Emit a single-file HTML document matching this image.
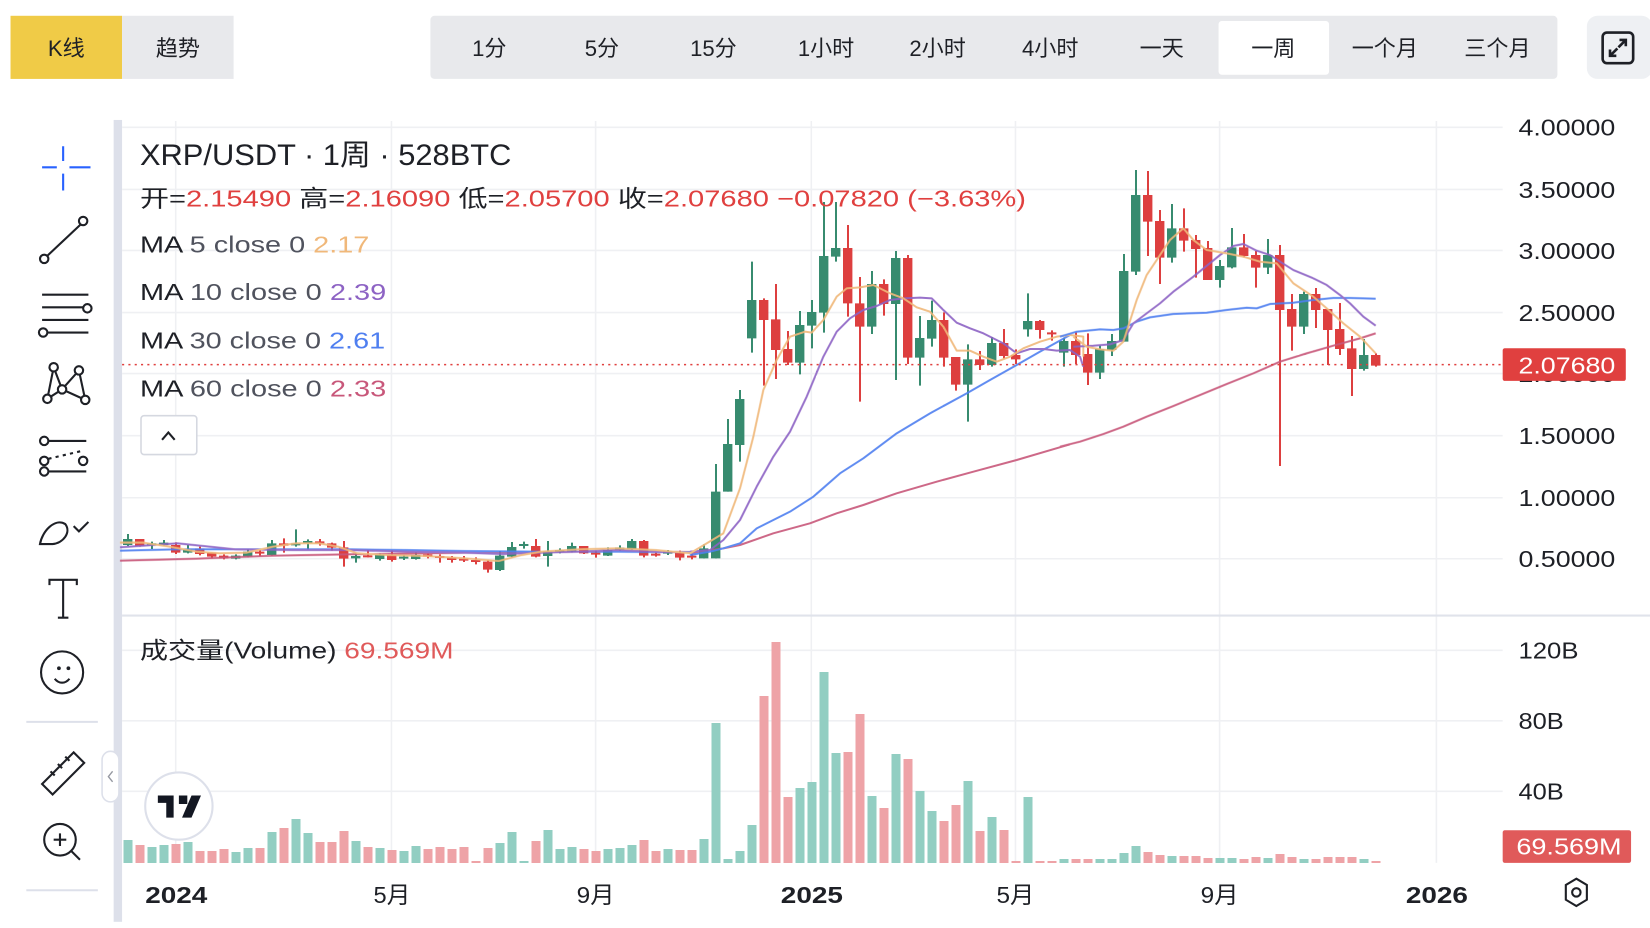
<!DOCTYPE html>
<html><head><meta charset="utf-8">
<style>
html,body{margin:0;padding:0;background:#fff;}
svg{display:block;}
text{font-family:"Liberation Sans","Noto Sans CJK SC",sans-serif;}
</style></head>
<body>
<svg width="1650" height="928" viewBox="0 0 1650 928" xmlns="http://www.w3.org/2000/svg">
<rect width="1650" height="928" fill="#fff"/>
<g transform="scale(1.05230)">
  <rect x="10" y="15" width="106" height="60" fill="#f0cb47"/>
  <rect x="116" y="15" width="106" height="60" fill="#e8e9ec"/>
  <text x="63" y="53" font-size="21" text-anchor="middle" fill="#1e2026">K线</text>
  <text x="169" y="53" font-size="21" text-anchor="middle" fill="#1e2026">趋势</text>
  <rect x="409" y="15" width="1071" height="60" rx="4" fill="#e8e9ec"/>
  <rect x="1158" y="20" width="105" height="51" rx="3" fill="#fff"/>
  <g font-size="21" text-anchor="middle" fill="#1e2026">
    <text x="465" y="53">1分</text><text x="572" y="53">5分</text><text x="678" y="53">15分</text>
    <text x="785" y="53">1小时</text><text x="891" y="53">2小时</text><text x="998" y="53">4小时</text>
    <text x="1104" y="53">一天</text><text x="1210" y="53">一周</text><text x="1316" y="53">一个月</text><text x="1423" y="53">三个月</text>
  </g>
  <rect x="1508" y="15" width="62" height="60" rx="10" fill="#eef0f3"/>
  <rect x="1523" y="31" width="29" height="29" rx="4" fill="none" stroke="#1e2026" stroke-width="2.5"/>
  <path d="M1530 53 L1537 46 M1530 47 V53 H1536 M1545 38 L1538 45 M1539 38 H1545 V44" stroke="#1e2026" stroke-width="2.5" fill="none"/>

  <rect x="108" y="114" width="8" height="762" fill="#dde0ea"/>

  <g stroke="#eff0f3" stroke-width="1.5">
    <line x1="116" y1="121" x2="1428" y2="121"/><line x1="116" y1="180" x2="1428" y2="180"/>
    <line x1="116" y1="238" x2="1428" y2="238"/><line x1="116" y1="297" x2="1428" y2="297"/>
    <line x1="116" y1="355" x2="1428" y2="355"/><line x1="116" y1="414" x2="1428" y2="414"/>
    <line x1="116" y1="473" x2="1428" y2="473"/><line x1="116" y1="531" x2="1428" y2="531"/>
    <line x1="116" y1="618" x2="1428" y2="618"/><line x1="116" y1="685" x2="1428" y2="685"/>
    <line x1="116" y1="752" x2="1428" y2="752"/>
    <line x1="167" y1="115" x2="167" y2="820"/><line x1="372" y1="115" x2="372" y2="820"/>
    <line x1="566" y1="115" x2="566" y2="820"/><line x1="771" y1="115" x2="771" y2="820"/>
    <line x1="965" y1="115" x2="965" y2="820"/><line x1="1159" y1="115" x2="1159" y2="820"/>
    <line x1="1365" y1="115" x2="1365" y2="820"/>
  </g>
  <line x1="116" y1="585" x2="1568" y2="585" stroke="#e0e3eb" stroke-width="2"/>
</g>

<!-- volume -->
<g transform="translate(0,630) scale(1,0.333333)">
<path fill="#92cec2" d="M123.5 630h9V699h-9Z M147.5 651h9V699h-9Z M159.5 645h9V699h-9Z M183.5 636h9V699h-9Z M231.5 666h9V699h-9Z M243.5 654h9V699h-9Z M267.5 606h9V699h-9Z M291.5 567h9V699h-9Z M303.5 609h9V699h-9Z M351.5 633h9V699h-9Z M375.5 654h9V699h-9Z M399.5 663h9V699h-9Z M411.5 648h9V699h-9Z M495.5 639h9V699h-9Z M507.5 606h9V699h-9Z M519.5 693h9V699h-9Z M543.5 600h9V699h-9Z M555.5 657h9V699h-9Z M567.5 651h9V699h-9Z M603.5 657h9V699h-9Z M615.5 654h9V699h-9Z M627.5 645h9V699h-9Z M663.5 657h9V699h-9Z M699.5 627h9V699h-9Z
M711.5 279h9V699h-9Z M723.5 687h9V699h-9Z M735.5 663h9V699h-9Z M747.5 585h9V699h-9Z M795.5 474h9V699h-9Z M807.5 456h9V699h-9Z M819.5 126h9V699h-9Z M831.5 369h9V699h-9Z M867.5 498h9V699h-9Z M891.5 372h9V699h-9Z M915.5 483h9V699h-9Z M927.5 543h9V699h-9Z M963.5 453h9V699h-9Z M987.5 561h9V699h-9Z M1023.5 501h9V699h-9Z M1059.5 687h9V699h-9Z M1095.5 687h9V699h-9Z M1107.5 687h9V699h-9Z M1119.5 669h9V699h-9Z M1131.5 648h9V699h-9Z M1167.5 678h9V699h-9Z M1215.5 684h9V699h-9Z M1227.5 684h9V699h-9Z M1263.5 684h9V699h-9Z M1299.5 687h9V699h-9Z M1359.5 687h9V699h-9Z"/>
<path fill="#eea3a7" d="M135.5 645h9V699h-9Z M171.5 642h9V699h-9Z M195.5 663h9V699h-9Z M207.5 663h9V699h-9Z M219.5 657h9V699h-9Z M255.5 654h9V699h-9Z M279.5 594h9V699h-9Z M315.5 636h9V699h-9Z M327.5 636h9V699h-9Z M339.5 603h9V699h-9Z M363.5 651h9V699h-9Z M387.5 660h9V699h-9Z M423.5 657h9V699h-9Z M435.5 651h9V699h-9Z M447.5 657h9V699h-9Z M459.5 651h9V699h-9Z M471.5 693h9V699h-9Z M483.5 654h9V699h-9Z M531.5 633h9V699h-9Z M579.5 657h9V699h-9Z M591.5 663h9V699h-9Z M639.5 630h9V699h-9Z M651.5 663h9V699h-9Z M675.5 660h9V699h-9Z M687.5 660h9V699h-9Z
M759.5 198h9V699h-9Z M771.5 36h9V699h-9Z M783.5 501h9V699h-9Z M843.5 366h9V699h-9Z M855.5 252h9V699h-9Z M879.5 534h9V699h-9Z M903.5 387h9V699h-9Z M939.5 573h9V699h-9Z M951.5 525h9V699h-9Z M975.5 603h9V699h-9Z M999.5 600h9V699h-9Z M1011.5 693h9V699h-9Z M1035.5 693h9V699h-9Z M1047.5 693h9V699h-9Z M1071.5 687h9V699h-9Z M1083.5 687h9V699h-9Z M1143.5 666h9V699h-9Z M1155.5 675h9V699h-9Z M1179.5 678h9V699h-9Z M1191.5 678h9V699h-9Z M1203.5 684h9V699h-9Z M1239.5 687h9V699h-9Z M1251.5 681h9V699h-9Z M1275.5 672h9V699h-9Z M1287.5 681h9V699h-9Z M1311.5 687h9V699h-9Z M1323.5 681h9V699h-9Z M1335.5 681h9V699h-9Z M1347.5 681h9V699h-9Z M1371.5 693h9V699h-9Z"/>
</g>

<!-- candles section 1 -->
<g transform="translate(0,500) scale(1,0.333333)">
<path stroke="#378b6f" stroke-width="2" vector-effect="non-scaling-stroke" fill="none" d="M128 102V138 M152 125V147 M164 120V137 M188 135V160 M236 163V178 M248 148V172 M272 120V167 M296 88V140 M308 118V148 M356 160V188 M380 160V182 M404 165V180 M416 157V179 M500 153V213 M512 126V172 M524 125V146 M548 123V200 M560 145V160 M572 128V157 M608 142V168 M620 136V152 M632 117V150 M668 150V165"/>
<path fill="#378b6f" d="M123 117h9.4V135h-9.4Z M147 130h9.4V136h-9.4Z M159 128h9.4V135h-9.4Z M183 148h9.4V158h-9.4Z M231 167h9.4V176h-9.4Z M243 155h9.4V170h-9.4Z M267 130h9.4V165h-9.4Z M291 130h9.4V136h-9.4Z M303 123h9.4V129h-9.4Z M351 168h9.4V175h-9.4Z M375 164h9.4V177h-9.4Z M399 170h9.4V176h-9.4Z M411 165h9.4V177h-9.4Z M495 167h9.4V210h-9.4Z M507 141h9.4V170h-9.4Z M519 132h9.4V138h-9.4Z M543 155h9.4V168h-9.4Z M555 150h9.4V156h-9.4Z M567 138h9.4V155h-9.4Z M603 150h9.4V167h-9.4Z M615 143h9.4V150h-9.4Z M627 123h9.4V147h-9.4Z M663 155h9.4V161h-9.4Z"/>
<path stroke="#dd3f3f" stroke-width="2" vector-effect="non-scaling-stroke" fill="none" d="M140 117V140 M176 127V162 M200 140V166 M212 158V175 M224 163V178 M260 150V168 M284 115V158 M320 117V137 M332 128V152 M344 123V200 M368 150V172 M392 152V185 M428 160V175 M440 163V188 M452 168V188 M464 168V186 M476 172V193 M488 180V218 M536 117V172 M584 138V162 M596 152V173 M644 120V172 M656 158V170 M680 152V181 M692 162V178"/>
<path fill="#dd3f3f" d="M135 117h9.4V138h-9.4Z M171 135h9.4V158h-9.4Z M195 146h9.4V162h-9.4Z M207 158h9.4V170h-9.4Z M219 167h9.4V175h-9.4Z M255 155h9.4V161h-9.4Z M279 130h9.4V137h-9.4Z M315 124h9.4V130h-9.4Z M327 130h9.4V143h-9.4Z M339 142h9.4V176h-9.4Z M363 166h9.4V172h-9.4Z M387 165h9.4V180h-9.4Z M423 163h9.4V170h-9.4Z M435 168h9.4V174h-9.4Z M447 173h9.4V180h-9.4Z M459 176h9.4V182h-9.4Z M471 180h9.4V186h-9.4Z M483 185h9.4V209h-9.4Z M531 138h9.4V170h-9.4Z M579 138h9.4V160h-9.4Z M591 158h9.4V164h-9.4Z M639 123h9.4V167h-9.4Z M651 161h9.4V167h-9.4Z M675 158h9.4V173h-9.4Z M687 167h9.4V173h-9.4Z"/>
</g>
<!-- candles section 2 -->
<g transform="translate(0,180) scale(1,0.333333)">
<path stroke="#378b6f" stroke-width="2" vector-effect="non-scaling-stroke" fill="none" d="M704 1093V1135 M716 852V1135 M728 717V935 M740 630V845 M752 245V518 M800 393V583 M812 360V505 M824 66V458 M836 66V245 M872 273V462 M896 213V600 M920 408V617 M932 362V500 M968 493V725 M992 471V560 M1028 340V470 M1064 473V560"/>
<path fill="#378b6f" d="M699 1105h9.4V1135h-9.4Z M711 935h9.4V1135h-9.4Z M723 792h9.4V935h-9.4Z M735 657h9.4V795h-9.4Z M747 360h9.4V475h-9.4Z M795 435h9.4V548h-9.4Z M807 396h9.4V437h-9.4Z M819 228h9.4V398h-9.4Z M831 204h9.4V230h-9.4Z M867 312h9.4V440h-9.4Z M891 234h9.4V372h-9.4Z M915 474h9.4V533h-9.4Z M927 420h9.4V476h-9.4Z M963 538h9.4V614h-9.4Z M987 489h9.4V555h-9.4Z M1023 423h9.4V448h-9.4Z M1059 483h9.4V518h-9.4Z"/>
<path stroke="#dd3f3f" stroke-width="2" vector-effect="non-scaling-stroke" fill="none" d="M764 355V617 M776 312V597 M788 453V555 M848 135V410 M860 291V665 M884 298V407 M908 225V552 M944 397V560 M956 531V632 M980 513V570 M1004 447V536 M1016 508V552 M1040 420V476 M1052 451V482"/>
<path fill="#dd3f3f" d="M759 360h9.4V420h-9.4Z M771 418h9.4V510h-9.4Z M783 507h9.4V548h-9.4Z M843 204h9.4V370h-9.4Z M855 370h9.4V440h-9.4Z M879 312h9.4V372h-9.4Z M903 234h9.4V533h-9.4Z M939 420h9.4V533h-9.4Z M951 531h9.4V614h-9.4Z M975 538h9.4V555h-9.4Z M999 489h9.4V528h-9.4Z M1011 525h9.4V538h-9.4Z M1035 423h9.4V450h-9.4Z M1047 457h9.4V463h-9.4Z"/>
</g>
<!-- candles section 3 -->
<g transform="translate(0,160) scale(1,0.333333)">
<path stroke="#378b6f" stroke-width="2" vector-effect="non-scaling-stroke" fill="none" d="M1100 557V657 M1112 522V588 M1124 282V545 M1136 30V345 M1172 132V308 M1220 300V383 M1232 204V325 M1268 237V342 M1304 395V522 M1364 537V632"/>
<path fill="#378b6f" d="M1095 567h9.4V638h-9.4Z M1107 543h9.4V570h-9.4Z M1119 333h9.4V545h-9.4Z M1131 105h9.4V335h-9.4Z M1167 205h9.4V293h-9.4Z M1215 318h9.4V360h-9.4Z M1227 262h9.4V322h-9.4Z M1263 285h9.4V323h-9.4Z M1299 402h9.4V500h-9.4Z M1359 585h9.4V627h-9.4Z"/>
<path stroke="#dd3f3f" stroke-width="2" vector-effect="non-scaling-stroke" fill="none" d="M1076 517V612 M1088 520V675 M1148 33V288 M1160 150V372 M1184 145V275 M1196 225V353 M1208 243V360 M1244 222V292 M1256 273V383 M1280 255V918 M1292 402V572 M1316 384V504 M1328 447V615 M1340 429V585 M1352 528V708 M1376 580V620"/>
<path fill="#dd3f3f" d="M1071 543h9.4V585h-9.4Z M1083 582h9.4V638h-9.4Z M1143 105h9.4V185h-9.4Z M1155 183h9.4V293h-9.4Z M1179 205h9.4V242h-9.4Z M1191 240h9.4V267h-9.4Z M1203 264h9.4V360h-9.4Z M1239 262h9.4V288h-9.4Z M1251 285h9.4V323h-9.4Z M1275 285h9.4V450h-9.4Z M1287 447h9.4V500h-9.4Z M1311 402h9.4V450h-9.4Z M1323 447h9.4V510h-9.4Z M1335 507h9.4V567h-9.4Z M1347 565h9.4V627h-9.4Z M1371 585h9.4V617h-9.4Z"/>
</g>

<!-- MA lines -->
<g fill="none" stroke-width="2" stroke-linejoin="round" opacity="0.9">
<g transform="translate(120,500) scale(0.38270,0.333333)">
<polyline vector-effect="non-scaling-stroke" stroke="#c8577a" points="0,182 200,176 400,167 600,163 800,160 1000,157 1200,155 1400,155 1490,156"/>
<polyline vector-effect="non-scaling-stroke" stroke="#4f7ff0" points="0,152 150,148 300,148 450,148 600,148 750,150 900,153 1100,155 1300,155 1490,157"/>
<polyline vector-effect="non-scaling-stroke" stroke="#8d63c4" points="0,142 150,130 300,148 450,150 600,150 750,155 900,158 1000,162 1100,158 1200,155 1300,150 1400,155 1490,158"/>
<polyline vector-effect="non-scaling-stroke" stroke="#f0b87a" points="0,128 60,128 130,140 200,155 260,160 330,158 400,140 460,130 520,130 570,140 620,160 700,165 800,168 900,175 990,183 1050,165 1100,155 1200,148 1300,145 1400,150 1490,160"/>
</g>
<g transform="translate(690,180) scale(0.333333,0.333333)">
<polyline vector-effect="non-scaling-stroke" stroke="#c8577a" points="0,1120 100,1105 150,1095 250,1060 360,1030 440,1000 520,975 620,940 740,905 850,875 980,840 1140,793"/>
<polyline vector-effect="non-scaling-stroke" stroke="#4f7ff0" points="0,1125 60,1115 100,1105 150,1090 200,1045 300,995 370,950 450,880 520,835 620,760 720,700 830,640 900,600 980,555 1050,515 1140,465"/>
<polyline vector-effect="non-scaling-stroke" stroke="#8d63c4" points="0,1115 60,1110 100,1080 150,1020 200,920 250,830 300,755 350,650 400,530 440,455 480,415 520,390 560,378 600,360 640,355 690,353 725,355 760,390 800,428 840,445 880,460 940,490 980,520 1020,507 1060,507 1100,512 1140,510 1170,530 1180,560"/>
<polyline vector-effect="non-scaling-stroke" stroke="#f0b87a" points="0,1120 100,1060 150,925 190,770 220,630 260,540 300,470 345,455 365,458 400,420 440,350 470,325 510,322 550,315 600,340 640,355 680,382 720,395 760,440 800,512 840,512 880,530 920,545 960,530 1000,505 1050,485 1100,470 1140,465 1180,470 1180,530"/>
</g>
<g transform="translate(1060,160) scale(0.333333,0.333333)">
<polyline vector-effect="non-scaling-stroke" stroke="#c8577a" points="0,860 60,845 130,822 190,800 260,770 340,738 420,705 500,672 580,640 660,605 740,580 820,557 900,535 947,520"/>
<polyline vector-effect="non-scaling-stroke" stroke="#4f7ff0" points="0,530 50,515 120,508 160,510 190,505 230,485 270,472 340,462 440,458 500,450 560,443 590,445 630,432 700,428 760,420 820,414 870,414 947,416"/>
<polyline vector-effect="non-scaling-stroke" stroke="#8d63c4" points="40,560 100,557 150,553 190,540 220,490 260,460 300,430 340,395 400,350 480,285 520,258 550,252 590,272 630,285 660,305 700,330 760,355 800,375 840,405 870,430 910,470 947,497"/>
<polyline vector-effect="non-scaling-stroke" stroke="#f0b87a" points="40,530 80,560 120,568 160,572 190,545 230,420 260,345 300,285 330,240 370,205 400,240 440,270 500,280 550,290 600,305 650,310 700,370 760,410 800,445 850,490 900,530 947,580"/>
</g>
</g>

<g transform="scale(1.05230)">
  <line x1="116" y1="346.5" x2="1428" y2="346.5" stroke="#e0403f" stroke-width="1.5" stroke-dasharray="2,4"/>
  <text x="133" y="157" font-size="28" fill="#1e2026" textLength="353" lengthAdjust="spacingAndGlyphs">XRP/USDT · 1周 · 528BTC</text>
  <text x="133" y="196" font-size="22" fill="#1e2026" textLength="842" lengthAdjust="spacingAndGlyphs">开=<tspan fill="#e0403f">2.15490</tspan> 高=<tspan fill="#e0403f">2.16090</tspan> 低=<tspan fill="#e0403f">2.05700</tspan> 收=<tspan fill="#e0403f">2.07680</tspan> <tspan fill="#e0403f">−0.07820 (−3.63%)</tspan></text>
  <g font-size="22" fill="#1e2026">
    <text x="133" y="240" textLength="218" lengthAdjust="spacingAndGlyphs">MA <tspan fill="#50535e">5 close 0</tspan>  <tspan fill="#f0b87a">2.17</tspan></text>
    <text x="133" y="285" textLength="234" lengthAdjust="spacingAndGlyphs">MA <tspan fill="#50535e">10 close 0</tspan>  <tspan fill="#8d63c4">2.39</tspan></text>
    <text x="133" y="331" textLength="233" lengthAdjust="spacingAndGlyphs">MA <tspan fill="#50535e">30 close 0</tspan>  <tspan fill="#4f7ff0">2.61</tspan></text>
    <text x="133" y="377" textLength="234" lengthAdjust="spacingAndGlyphs">MA <tspan fill="#50535e">60 close 0</tspan>  <tspan fill="#c8577a">2.33</tspan></text>
  </g>
  <rect x="134" y="395" width="53" height="37" rx="3" fill="#fff" stroke="#d5d8e0" stroke-width="1.5"/>
  <path d="M154 418 L160 411 L166 418" stroke="#1e2026" stroke-width="2" fill="none"/>
  <text x="133" y="626" font-size="22" fill="#1e2026" textLength="298" lengthAdjust="spacingAndGlyphs">成交量(Volume)  <tspan fill="#e05a5a">69.569M</tspan></text>

  <g font-size="22" fill="#1e2026">
    <text x="1443" y="129" textLength="92" lengthAdjust="spacingAndGlyphs">4.00000</text>
    <text x="1443" y="188" textLength="92" lengthAdjust="spacingAndGlyphs">3.50000</text>
    <text x="1443" y="246" textLength="92" lengthAdjust="spacingAndGlyphs">3.00000</text>
    <text x="1443" y="305" textLength="92" lengthAdjust="spacingAndGlyphs">2.50000</text>
    <text x="1443" y="363" textLength="92" lengthAdjust="spacingAndGlyphs">2.00000</text>
    <text x="1443" y="422" textLength="92" lengthAdjust="spacingAndGlyphs">1.50000</text>
    <text x="1443" y="481" textLength="92" lengthAdjust="spacingAndGlyphs">1.00000</text>
    <text x="1443" y="539" textLength="92" lengthAdjust="spacingAndGlyphs">0.50000</text>
    <text x="1443" y="626" textLength="57" lengthAdjust="spacingAndGlyphs">120B</text>
    <text x="1443" y="693" textLength="43" lengthAdjust="spacingAndGlyphs">80B</text>
    <text x="1443" y="760" textLength="43" lengthAdjust="spacingAndGlyphs">40B</text>
  </g>
  <rect x="1428" y="331" width="117" height="31" rx="2" fill="#e0403f"/>
  <text x="1443" y="355" font-size="22" fill="#fff" textLength="92" lengthAdjust="spacingAndGlyphs">2.07680</text>
  <rect x="1428" y="789" width="122" height="31" rx="2" fill="#e05a5a"/>
  <text x="1441" y="812" font-size="22" fill="#fff" textLength="100" lengthAdjust="spacingAndGlyphs">69.569M</text>

  <g font-size="22" fill="#1e2026">
    <text x="138" y="858" font-weight="bold" textLength="59" lengthAdjust="spacingAndGlyphs">2024</text>
    <text x="355" y="858" textLength="35" lengthAdjust="spacingAndGlyphs">5月</text>
    <text x="548" y="858" textLength="36" lengthAdjust="spacingAndGlyphs">9月</text>
    <text x="742" y="858" font-weight="bold" textLength="59" lengthAdjust="spacingAndGlyphs">2025</text>
    <text x="947" y="858" textLength="36" lengthAdjust="spacingAndGlyphs">5月</text>
    <text x="1141" y="858" textLength="36" lengthAdjust="spacingAndGlyphs">9月</text>
    <text x="1336" y="858" font-weight="bold" textLength="59" lengthAdjust="spacingAndGlyphs">2026</text>
  </g>
  <path d="M1498 835 L1508 841 L1508 855 L1498 861 L1488 855 L1488 841 Z" fill="none" stroke="#1e2026" stroke-width="2"/>
  <circle cx="1498" cy="848" r="4" fill="none" stroke="#1e2026" stroke-width="2"/>

  <circle cx="170" cy="766" r="32" fill="#fff" stroke="#dde0ea" stroke-width="2"/>
  <path d="M150 756 H165 V777 H158 V763 H150 Z M170 756 H178 V764 H170 Z M182 756 H191 L182 777 H173 Z" fill="#131722"/>
  <rect x="97" y="714" width="16" height="48" rx="8" fill="#fff" stroke="#dde0ea" stroke-width="1.5"/>
  <path d="M107 733 L103 738 L107 743" stroke="#9598a1" stroke-width="1.3" fill="none"/>

  <g stroke="#1e2026" stroke-width="2" fill="none">
    <path d="M40 159 H54 M66 159 H86 M60 139 V153 M60 165 V181" stroke="#2962ff"/>
    <line x1="44" y1="244" x2="78" y2="212"/><circle cx="42" cy="246" r="4" fill="#fff"/><circle cx="79" cy="210" r="4" fill="#fff"/>
    <path d="M40 280 H84 M40 292 H80 M40 304 H84 M44 316 H84"/><circle cx="83" cy="293" r="4" fill="#fff"/><circle cx="41" cy="316" r="4" fill="#fff"/>
    <path d="M51 349 L45 379 M51 349 L59 370 L81 380 M75 352 L81 380 M59 370 L75 352 M45 379 L59 370"/>
    <circle cx="51" cy="349" r="4" fill="#fff"/><circle cx="75" cy="352" r="4" fill="#fff"/><circle cx="59" cy="370" r="4" fill="#fff"/><circle cx="45" cy="379" r="4" fill="#fff"/><circle cx="81" cy="380" r="4" fill="#fff"/>
    <path d="M46 419 H82 M46 448 H82"/><path d="M46 436 L80 428" stroke-dasharray="3,4"/>
    <circle cx="42" cy="419" r="4" fill="#fff"/><circle cx="42" cy="438" r="4" fill="#fff"/><circle cx="42" cy="448" r="4" fill="#fff"/><circle cx="79" cy="438" r="4" fill="#fff"/>
    <path d="M38 517 C40 505 52 492 62 498 C68 506 60 516 50 517 Z M70 500 L75 505 L84 496"/>
    <path d="M47 556 V551 H73 V556 M60 551 V587 M55 587 H65"/>
    <circle cx="59" cy="639" r="20"/><path d="M52 645 C56 650 62 650 66 645"/>
    <path d="M40 745 L70 715 L80 725 L50 755 Z M48 733 L52 737 M55 726 L59 730 M62 719 L66 723"/>
    <circle cx="57" cy="798" r="15"/><path d="M67 808 L76 817 M51 798 H63 M57 792 V804"/>
  </g>
  <g fill="#1e2026"><circle cx="56" cy="635" r="1.8"/><circle cx="65" cy="635" r="1.8"/></g>
  <line x1="25" y1="686" x2="93" y2="686" stroke="#dde0ea" stroke-width="2"/>
  <line x1="25" y1="846" x2="93" y2="846" stroke="#dde0ea" stroke-width="2"/>
</g>
</svg>
</body></html>
